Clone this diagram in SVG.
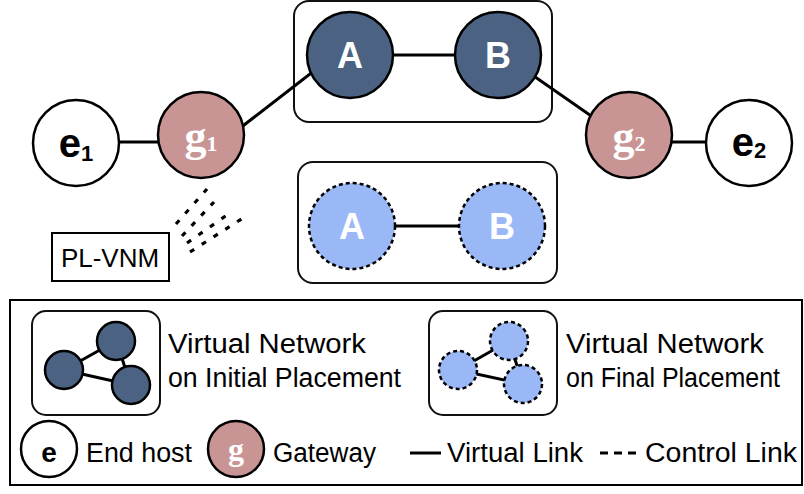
<svg xmlns="http://www.w3.org/2000/svg" width="804" height="494" viewBox="0 0 804 494">
  <style>
    .frame { fill: none; stroke: #000; stroke-width: 2; }
    .group { fill: none; stroke: #111; stroke-width: 2; }
    .link { stroke: #000; stroke-width: 3; fill: none; }
    .ctrl { stroke: #000; stroke-width: 3.2; fill: none; stroke-dasharray: 5 9; }
    .vn { fill: #4b6283; stroke: #000; stroke-width: 2.5; }
    .vnf { fill: #9bb8f6; stroke: #000; stroke-width: 2.5; stroke-dasharray: 4 3; }
    .host { fill: #fff; stroke: #000; stroke-width: 2.5; }
    .gw { fill: #c99594; stroke: #000; stroke-width: 2.5; }
    .vlabel { font-family: "Liberation Sans", Arial, sans-serif; font-weight: bold; font-size: 36px; fill: #fff; text-anchor: middle; }
    .hlabel { font-family: "Liberation Sans", Arial, sans-serif; font-weight: bold; font-size: 40px; fill: #000; text-anchor: middle; }
    .glabel { font-family: "Liberation Serif", "Times New Roman", serif; font-weight: bold; font-size: 44px; fill: #fff; text-anchor: middle; }
    .sub { font-size: 22px; }
    .txt { font-family: "Liberation Sans", Arial, sans-serif; font-size: 27px; fill: #000; }
  </style>

  <!-- grouping boxes around the virtual networks -->
  <rect class="group" x="294" y="1" width="258" height="121" rx="15"/>
  <rect class="group" x="298" y="162" width="259" height="121" rx="15"/>

  <!-- connectors -->
  <g id="connectors">
    <line class="link" x1="119" y1="142" x2="160" y2="142"/>
    <line class="link" x1="235" y1="132" x2="319" y2="67"/>
    <line class="link" x1="393" y1="55" x2="455" y2="55"/>
    <line class="link" x1="528" y1="72" x2="597" y2="120"/>
    <line class="link" x1="672" y1="142" x2="706" y2="142"/>
    <line class="link" x1="395" y1="226" x2="459" y2="226"/>
    <!-- control links fanning out from PL-VNM -->
    <line class="ctrl" x1="176" y1="224" x2="207" y2="189"/>
    <line class="ctrl" x1="182" y1="236" x2="214" y2="202"/>
    <line class="ctrl" x1="187" y1="243" x2="227" y2="215"/>
    <line class="ctrl" x1="190" y1="252" x2="243" y2="218"/>
  </g>

  <!-- nodes -->
  <g id="e1">
    <circle class="host" cx="76" cy="143" r="43"/>
    <text class="hlabel" x="76" y="157">e<tspan class="sub" dy="4">1</tspan></text>
  </g>
  <g id="g1">
    <circle class="gw" cx="201" cy="135" r="43"/>
    <text class="glabel" x="201" y="151">g<tspan class="sub" dy="0">1</tspan></text>
  </g>
  <g id="A">
    <circle class="vn" cx="350" cy="55" r="43"/>
    <text class="vlabel" x="350" y="68">A</text>
  </g>
  <g id="B">
    <circle class="vn" cx="498" cy="55" r="43"/>
    <text class="vlabel" x="498" y="68">B</text>
  </g>
  <g id="g2">
    <circle class="gw" cx="629" cy="135" r="43"/>
    <text class="glabel" x="629" y="151">g<tspan class="sub" dy="0">2</tspan></text>
  </g>
  <g id="e2">
    <circle class="host" cx="749" cy="143" r="43"/>
    <text class="hlabel" x="749" y="156">e<tspan class="sub" dy="2">2</tspan></text>
  </g>
  <g id="A-final">
    <circle class="vnf" cx="352" cy="226" r="43"/>
    <text class="vlabel" x="352" y="239">A</text>
  </g>
  <g id="B-final">
    <circle class="vnf" cx="502" cy="226" r="43"/>
    <text class="vlabel" x="502" y="239">B</text>
  </g>
  <g id="pl-vnm">
    <rect class="frame" x="52" y="233" width="117" height="48"/>
    <text class="txt" x="110" y="267" text-anchor="middle" style="font-size:26px">PL-VNM</text>
  </g>

  <!-- legend -->
  <g id="legend">
    <rect class="frame" x="10" y="300" width="792" height="185"/>

    <rect class="group" x="32" y="311" width="128" height="104" rx="14"/>
    <line class="link" x1="64" y1="370" x2="116" y2="341"/>
    <line class="link" x1="64" y1="370" x2="131" y2="385"/>
    <line class="link" x1="116" y1="341" x2="131" y2="385"/>
    <circle class="vn" cx="116" cy="341" r="19"/>
    <circle class="vn" cx="64" cy="370" r="19"/>
    <circle class="vn" cx="131" cy="385" r="19"/>
    <text class="txt" x="168" y="353" textLength="198" lengthAdjust="spacingAndGlyphs">Virtual Network</text>
    <text class="txt" x="168" y="387" textLength="233" lengthAdjust="spacingAndGlyphs">on Initial Placement</text>

    <rect class="group" x="429" y="311" width="128" height="104" rx="14"/>
    <line class="link" x1="458" y1="370" x2="509" y2="341"/>
    <line class="link" x1="458" y1="370" x2="523" y2="384"/>
    <line class="link" x1="509" y1="341" x2="523" y2="384"/>
    <circle class="vnf" cx="509" cy="341" r="19"/>
    <circle class="vnf" cx="458" cy="370" r="19"/>
    <circle class="vnf" cx="523" cy="384" r="19"/>
    <text class="txt" x="566" y="353" textLength="198" lengthAdjust="spacingAndGlyphs">Virtual Network</text>
    <text class="txt" x="566" y="387" textLength="214" lengthAdjust="spacingAndGlyphs">on Final Placement</text>

    <circle class="host" cx="49" cy="449" r="28"/>
    <text class="hlabel" x="49" y="462" style="font-size:28px">e</text>
    <text class="txt" x="86" y="462" textLength="106" lengthAdjust="spacingAndGlyphs">End host</text>

    <circle class="gw" cx="236" cy="449" r="28"/>
    <text class="glabel" x="236" y="460" style="font-size:32px">g</text>
    <text class="txt" x="273" y="462" textLength="103" lengthAdjust="spacingAndGlyphs">Gateway</text>

    <line class="link" x1="410" y1="453" x2="441" y2="453"/>
    <text class="txt" x="447" y="462" textLength="136" lengthAdjust="spacingAndGlyphs">Virtual Link</text>
    <line class="link" x1="600" y1="453" x2="637" y2="453" style="stroke-dasharray:8 6"/>
    <text class="txt" x="645" y="462" textLength="152" lengthAdjust="spacingAndGlyphs">Control Link</text>
  </g>
</svg>
